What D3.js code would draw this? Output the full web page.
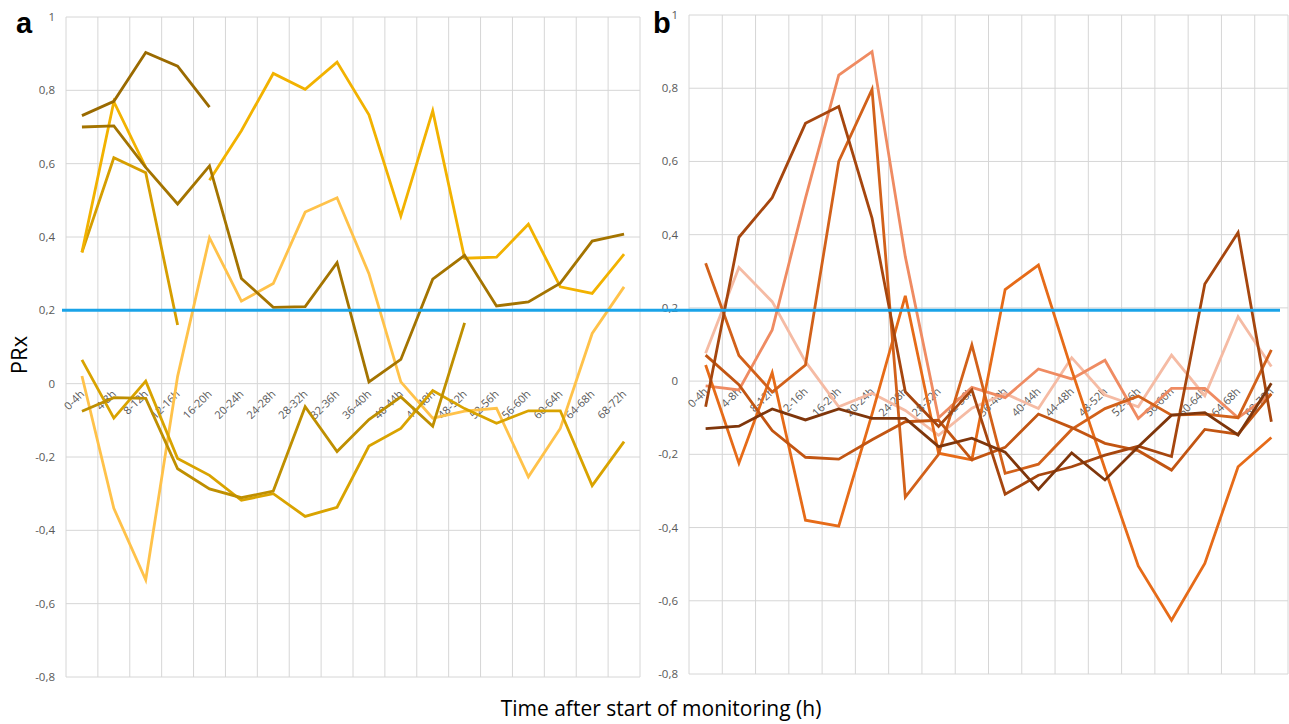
<!DOCTYPE html>
<html>
<head>
<meta charset="utf-8">
<script src="https://cdn.jsdelivr.net/npm/d3@7"></script>
<style>
  body { margin: 0; background: #fff; }
  svg { display: block; }
</style>
</head>
<body>
<script>
// time windows on the x axis
var timeLabels = ["0-4h","4-8h","8-12h","12-16h","16-20h","20-24h","24-28h","28-32h","32-36h",
  "36-40h","40-44h","44-48h","48-52h","52-56h","56-60h","60-64h","64-68h","68-72h"];

var yTicks = [1, 0.8, 0.6, 0.4, 0.2, 0, -0.2, -0.4, -0.6, -0.8];
var threshold = 0.2;

// panel a - yellow / gold patients (null = no value)
var a1 = [0.731, 0.77, 0.903, 0.866, 0.754, null, null, null, null, null, null, null, null, null, null, null, null, null];
var a2 = [0.70, 0.703, 0.59, 0.49, 0.594, 0.287, 0.208, 0.21, 0.33, 0.005, 0.066, 0.285, 0.35, 0.212, 0.223, 0.274, 0.389, 0.408];
var a3 = [0.358, 0.769, 0.59, null, 0.555, 0.69, 0.846, 0.803, 0.877, 0.733, 0.457, 0.744, 0.342, 0.345, 0.435, 0.264, 0.246, 0.353];
var a4 = [0.358, 0.616, 0.575, 0.16, null, null, null, null, null, null, null, null, null, null, null, null, null, null];
var a5 = [0.021, -0.34, -0.535, 0.02, 0.398, 0.225, 0.273, 0.468, 0.507, 0.30, 0.005, -0.094, -0.075, -0.067, -0.254, -0.122, 0.137, 0.264];
var a6 = [0.065, -0.094, 0.007, -0.204, -0.25, -0.318, -0.30, -0.362, -0.337, -0.17, -0.122, -0.019, -0.068, -0.108, -0.074, -0.074, -0.278, -0.158];
var a7 = [-0.075, -0.038, -0.04, -0.232, -0.287, -0.311, -0.293, -0.063, -0.185, -0.098, -0.036, -0.116, 0.166, null, null, null, null, null];

// panel b - orange / brown patients
var b1 = [-0.13, -0.123, -0.076, -0.106, -0.076, -0.102, -0.102, -0.179, -0.156, -0.194, -0.296, -0.196, -0.27, -0.179, -0.093, -0.086, -0.147, -0.006];
var b2 = [-0.07, 0.393, 0.501, 0.704, 0.75, 0.445, -0.029, -0.124, -0.024, -0.309, -0.257, -0.234, -0.202, -0.178, -0.206, 0.265, 0.406, -0.111];
var b3 = [-0.013, -0.024, 0.14, 0.50, 0.836, 0.90, 0.34, -0.10, -0.017, -0.045, 0.033, 0.006, 0.057, -0.102, -0.02, -0.02, -0.10, -0.035];
var b4 = [0.076, 0.31, 0.217, 0.053, -0.07, -0.033, -0.08, -0.148, -0.074, -0.034, -0.075, 0.064, -0.038, -0.07, 0.071, -0.04, 0.176, 0.04];
var b5 = [0.044, -0.224, 0.023, -0.38, -0.396, -0.09, 0.233, -0.197, -0.215, 0.25, 0.317, 0.03, -0.24, -0.505, -0.653, -0.498, -0.234, -0.154];
var b6 = [0.322, 0.07, -0.03, 0.044, 0.60, 0.797, -0.317, -0.20, 0.099, -0.252, -0.227, -0.132, -0.075, -0.041, -0.093, -0.09, -0.10, 0.085];
var b7 = [0.071, -0.01, -0.135, -0.208, -0.213, -0.16, -0.111, -0.107, -0.215, -0.181, -0.09, -0.127, -0.17, -0.19, -0.243, -0.132, -0.145, -0.035];

var seriesA = [
  {values: a5, color: "#FFC24A"},
  {values: a6, color: "#D9A300"},
  {values: a7, color: "#BF8F00"},
  {values: a4, color: "#D69E00"},
  {values: a3, color: "#F2B200"},
  {values: a2, color: "#A47400"},
  {values: a1, color: "#9A6A00"}
];
var seriesB = [
  {values: b4, color: "#F5BBA4"},
  {values: b3, color: "#EF8B62"},
  {values: b5, color: "#E66B18"},
  {values: b6, color: "#D2611A"},
  {values: b7, color: "#C25512"},
  {values: b2, color: "#A6460E"},
  {values: b1, color: "#7F360B"}
];

var W = 1289, H = 724;
var svg = d3.select("body").append("svg")
  .attr("width", W)
  .attr("height", H)
  .style("font-family", "'Open Sans', 'Liberation Sans', sans-serif");

function fmt(v) {
  return (Math.round(v * 10) / 10).toString().replace(".", ",");
}

function drawPanel(series, left, right, top, bottom, letter, letterX) {
  var x = d3.scaleBand().domain(timeLabels).range([left, right]).padding(0);
  var y = d3.scaleLinear().domain([-0.8, 1]).range([bottom, top]);
  var g = svg.append("g");

  // horizontal grid
  g.selectAll(".hg").data(yTicks).enter().append("line")
    .attr("x1", left).attr("x2", right)
    .attr("y1", d => y(d)).attr("y2", d => y(d))
    .attr("stroke", "#D6D6D6").attr("stroke-width", 1);

  // vertical grid at band edges
  var edges = timeLabels.map(d => x(d)).concat([right]);
  g.selectAll(".vg").data(edges).enter().append("line")
    .attr("x1", d => d).attr("x2", d => d)
    .attr("y1", top).attr("y2", bottom)
    .attr("stroke", "#D6D6D6").attr("stroke-width", 1);

  // y tick labels
  g.selectAll(".yt").data(yTicks).enter().append("text")
    .attr("x", left - 11)
    .attr("y", d => y(d))
    .attr("dy", "0.35em")
    .attr("text-anchor", "end")
    .attr("font-size", 11.5)
    .attr("fill", "#595959")
    .text(fmt);

  // category labels, slanted, sitting on the zero line
  g.selectAll(".xt").data(timeLabels).enter().append("text")
    .attr("transform", d => "translate(" + (x(d) + x.bandwidth() / 2 + 3) + "," + (y(0) + 11) + ") rotate(-45)")
    .attr("text-anchor", "end")
    .attr("font-size", 11)
    .attr("fill", "#595959")
    .text(d => d);

  var line = d3.line()
    .defined(d => d != null)
    .x((d, i) => x(timeLabels[i]) + x.bandwidth() / 2)
    .y(d => y(d));

  g.selectAll(".series").data(series).enter().append("path")
    .attr("d", d => line(d.values))
    .attr("fill", "none")
    .attr("stroke", d => d.color)
    .attr("stroke-width", 2.8)
    .attr("stroke-linejoin", "miter");

  svg.append("text")
    .attr("x", letterX).attr("y", 33)
    .attr("font-family", "'Liberation Sans', Arial, sans-serif")
    .attr("font-weight", "bold")
    .attr("font-size", 29)
    .attr("fill", "#000")
    .text(letter);

  return y;
}

var yA = drawPanel(seriesA, 66, 640, 17, 677, "a", 16);
var yB = drawPanel(seriesB, 689, 1288, 15, 674, "b", 653);

// PRx threshold across both panels
svg.append("line")
  .attr("x1", 62).attr("x2", 1280)
  .attr("y1", yA(threshold)).attr("y2", yA(threshold))
  .attr("stroke", "#1AA3E8").attr("stroke-width", 3);

svg.append("text")
  .attr("transform", "translate(27,355) rotate(-90)")
  .attr("text-anchor", "middle")
  .attr("font-size", 22)
  .attr("fill", "#000")
  .text("PRx");

svg.append("text")
  .attr("x", 661).attr("y", 716)
  .attr("text-anchor", "middle")
  .attr("font-size", 21)
  .attr("fill", "#000")
  .text("Time after start of monitoring (h)");
</script>
</body>
</html>
